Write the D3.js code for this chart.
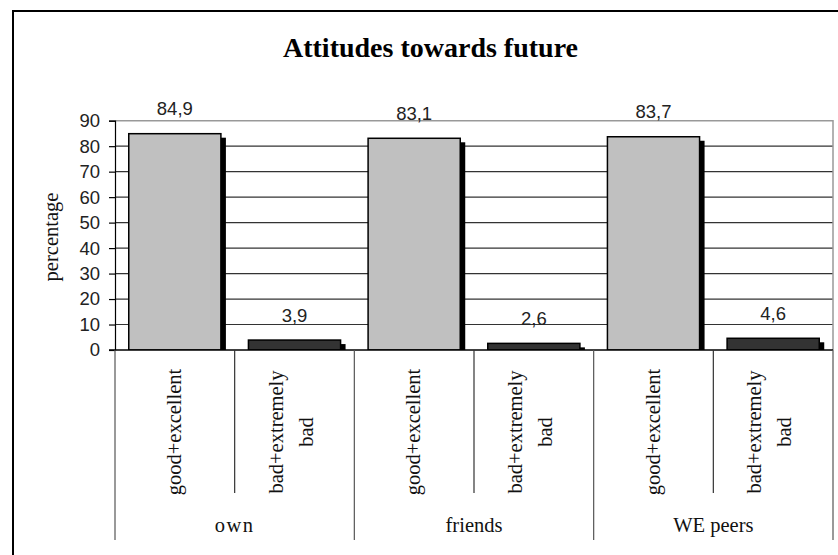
<!DOCTYPE html>
<html>
<head>
<meta charset="utf-8">
<script src="https://cdn.jsdelivr.net/npm/d3@7"></script>
<style>
  html, body { margin: 0; padding: 0; background: #fff; }
  svg { display: block; }
</style>
</head>
<body>
<svg id="chart" width="838" height="555"></svg>
<script>
// ---- data ----
const groups = ["own", "friends", "WE peers"];
const answers = ["good+excellent", "bad+extremely bad"];
const answerLines = [["good+excellent"], ["bad+extremely", "bad"]];
const values = [
  [84.9, 3.9],   // own
  [83.1, 2.6],   // friends
  [83.7, 4.6]    // WE peers
];
const valueLabels = [["84,9", "3,9"], ["83,1", "2,6"], ["83,7", "4,6"]];
const yTicks = [0, 10, 20, 30, 40, 50, 60, 70, 80, 90];
const title = "Attitudes towards future";
const yTitle = "percentage";

// ---- layout ----
const svg = d3.select("#chart");
const W = 838, H = 555;
const plot = { left: 115, right: 833, top: 120.7, bottom: 350 };

// outer frame (extends beyond canvas right/bottom)
svg.append("rect")
  .attr("x", 13).attr("y", 11).attr("width", 900).attr("height", 700)
  .attr("fill", "#fff").attr("stroke", "#000").attr("stroke-width", 2);

// flat list of sub-categories
const cells = [];
groups.forEach((g, gi) => answers.forEach((a, ai) => {
  cells.push({ key: g + "|" + a, group: g, gi, ai, value: values[gi][ai], label: valueLabels[gi][ai], lines: answerLines[ai] });
}));

const x = d3.scaleBand().domain(cells.map(d => d.key)).range([plot.left, plot.right]).padding(0);
const xg = d3.scaleBand().domain(groups).range([plot.left, plot.right]).padding(0);
const y = d3.scaleLinear().domain([0, 90]).range([plot.bottom, plot.top]);

// gridlines
svg.append("g").selectAll("line").data(yTicks.filter(t => t > 0 && t < 90)).join("line")
  .attr("x1", plot.left).attr("x2", plot.right)
  .attr("y1", d => y(d)).attr("y2", d => y(d))
  .attr("stroke", "#333").attr("stroke-width", 1.2);

// plot border top and right (gray)
svg.append("path")
  .attr("d", `M${plot.left},${y(90)}H${plot.right}V${plot.bottom}`)
  .attr("fill", "none").attr("stroke", "#999").attr("stroke-width", 1.5);

// clip
svg.append("clipPath").attr("id", "clip").append("rect")
  .attr("x", plot.left).attr("y", 0).attr("width", plot.right - plot.left + 10).attr("height", plot.bottom);

const barW = x.bandwidth() * 0.77;
const fills = ["#c0c0c0", "#333333"];
const bars = svg.append("g").attr("clip-path", "url(#clip)");

// shadows
bars.selectAll("rect.shadow").data(cells).join("rect").attr("class", "shadow")
  .attr("x", d => x(d.key) + (x.bandwidth() - barW) / 2 + 5)
  .attr("y", d => y(d.value) + 4)
  .attr("width", barW)
  .attr("height", d => plot.bottom - y(d.value))
  .attr("fill", "#000");

// bars
bars.selectAll("rect.bar").data(cells).join("rect").attr("class", "bar")
  .attr("x", d => x(d.key) + (x.bandwidth() - barW) / 2)
  .attr("y", d => y(d.value))
  .attr("width", barW)
  .attr("height", d => plot.bottom - y(d.value))
  .attr("fill", d => fills[d.ai])
  .attr("stroke", "#000").attr("stroke-width", 1.5);

// value labels
svg.append("g").selectAll("text").data(cells).join("text")
  .attr("x", d => x(d.key) + x.bandwidth() / 2)
  .attr("y", d => y(d.value) - 18.5)
  .attr("text-anchor", "middle")
  .attr("font-family", "Liberation Sans, Arial, sans-serif")
  .attr("font-size", 18.5).attr("fill", "#222")
  .text(d => d.label);

// y axis
const yAxis = svg.append("g").attr("transform", `translate(${plot.left},0)`)
  .call(d3.axisLeft(y).tickValues(yTicks).tickSize(6).tickPadding(9).tickFormat(d3.format("d")));
yAxis.select(".domain").attr("stroke", "#000").attr("stroke-width", 1.2);
yAxis.selectAll(".tick line").attr("stroke", "#000").attr("stroke-width", 1.2);
yAxis.selectAll(".tick text")
  .attr("font-family", "Liberation Sans, Arial, sans-serif")
  .attr("font-size", 18.5).attr("fill", "#222");

// x axis baseline
svg.append("line")
  .attr("x1", plot.left - 6).attr("x2", plot.right)
  .attr("y1", plot.bottom).attr("y2", plot.bottom)
  .attr("stroke", "#000").attr("stroke-width", 1.5);

// sub-category dividers
const subBounds = cells.slice(1).filter(d => d.ai > 0).map(d => x(d.key));
svg.append("g").selectAll("line").data(subBounds).join("line")
  .attr("x1", d => d).attr("x2", d => d)
  .attr("y1", plot.bottom).attr("y2", 493)
  .attr("stroke", "#333").attr("stroke-width", 1.2);

// group dividers
const groupBounds = groups.map(g => xg(g)).concat([plot.right]);
svg.append("g").selectAll("line").data(groupBounds).join("line")
  .attr("x1", d => d).attr("x2", d => d)
  .attr("y1", plot.bottom).attr("y2", 540)
  .attr("stroke", "#555").attr("stroke-width", 1.2);

// sub-category labels (rotated)
const catG = svg.append("g").selectAll("g").data(cells).join("g")
  .attr("transform", d => `translate(${x(d.key) + x.bandwidth() / 2},432) rotate(-90)`);
catG.each(function(d) {
  const g = d3.select(this);
  const n = d.lines.length;
  const offs = n === 1 ? [6] : [-12, 18];
  d.lines.forEach((t, i) => {
    g.append("text")
      .attr("x", 0).attr("y", offs[i])
      .attr("text-anchor", "middle")
      .attr("font-family", "Liberation Serif, Times New Roman, serif")
      .attr("font-size", 20.5).attr("fill", "#111")
      .text(t);
  });
});

// group labels
svg.append("g").selectAll("text").data(groups).join("text")
  .attr("x", d => xg(d) + xg.bandwidth() / 2)
  .attr("y", 532)
  .attr("text-anchor", "middle")
  .attr("font-family", "Liberation Serif, Times New Roman, serif")
  .attr("font-size", 20.5).attr("fill", "#111")
  .attr("letter-spacing", d => d === "own" ? 1.5 : 0)
  .text(d => d);

// title
svg.append("text")
  .attr("x", 430.5).attr("y", 57)
  .attr("text-anchor", "middle")
  .attr("font-family", "Liberation Serif, Times New Roman, serif")
  .attr("font-weight", "bold").attr("font-size", 28).attr("fill", "#000")
  .text(title);

// y title
svg.append("text")
  .attr("transform", "translate(58,237) rotate(-90)")
  .attr("text-anchor", "middle")
  .attr("font-family", "Liberation Serif, Times New Roman, serif")
  .attr("font-size", 20.5).attr("fill", "#111")
  .text(yTitle);
</script>
</body>
</html>
